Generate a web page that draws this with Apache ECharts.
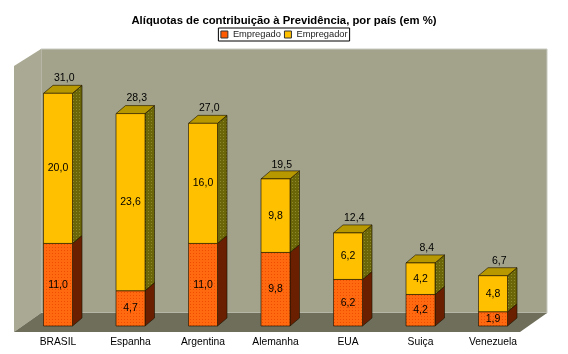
<!DOCTYPE html>
<html>
<head>
<meta charset="utf-8">
<script src="https://cdn.jsdelivr.net/npm/echarts@6/dist/echarts.min.js"></script>
<style>html,body{margin:0;padding:0;background:#fff;}#c{width:568px;height:354px;}</style>
</head>
<body>
<div id="c"></div>
<script>
const categories = ['BRASIL', 'Espanha', 'Argentina', 'Alemanha', 'EUA', 'Suiça', 'Venezuela'];
const empregado = [11.0, 4.7, 11.0, 9.8, 6.2, 4.2, 1.9];
const empregador = [20.0, 23.6, 16.0, 9.8, 6.2, 4.2, 4.8];
const totais = [31.0, 28.3, 27.0, 19.5, 12.4, 8.4, 6.7];

const FONT = '"Liberation Sans", Arial, sans-serif';
const DX = 9.5, DY = -8;
const fmt = v => v.toFixed(1).replace('.', ',');

function pattern(base, dot) {
  const c = document.createElement('canvas');
  c.width = 3; c.height = 3;
  const g = c.getContext('2d');
  g.fillStyle = base; g.fillRect(0, 0, 3, 3);
  g.fillStyle = dot; g.fillRect(1, 1, 1, 1);
  return { image: c, repeat: 'repeat' };
}

const orangeFront = pattern('#ff6a10', '#f04c00');
const oliveSide = pattern('#6b6608', '#8e8a2c');

function makeRender(front, side, top) {
  return function (params, api) {
    const i = api.value(0);
    const b = api.coord([i, api.value(1)]);
    const t = api.coord([i, api.value(2)]);
    const half = api.size([1, 0])[0] * 0.2;
    const x0 = b[0] - half, x1 = b[0] + half, yb = b[1], yt = t[1];
    const st = { stroke: 'rgba(30,20,0,0.8)', lineWidth: 0.8 };
    return {
      type: 'group',
      children: [
        { type: 'polygon', shape: { points: [[x1, yt], [x1 + DX, yt + DY], [x1 + DX, yb + DY], [x1, yb]] }, style: Object.assign({ fill: side }, st) },
        { type: 'polygon', shape: { points: [[x0, yt], [x0 + DX, yt + DY], [x1 + DX, yt + DY], [x1, yt]] }, style: Object.assign({ fill: top }, st) },
        { type: 'rect', shape: { x: x0, y: yt, width: 2 * half, height: yb - yt }, style: Object.assign({ fill: front }, st) },
        { type: 'text', style: { text: fmt(api.value(3)), x: b[0], y: (yb + yt) / 2, align: 'center', verticalAlign: 'middle', fontSize: 10.5, fontFamily: FONT, fill: '#000' } }
      ]
    };
  };
}

const dataEmpregado = categories.map((c, i) => [i, 0, empregado[i], empregado[i]]);
const dataEmpregador = categories.map((c, i) => [i, empregado[i], empregado[i] + empregador[i], empregador[i]]);
const dataTotal = categories.map((c, i) => [i, totais[i]]);

const chart = echarts.init(document.getElementById('c'), null, { renderer: 'canvas' });

const option = {
  animation: false,
  backgroundColor: '#fff',
  title: {
    text: 'Alíquotas de contribuição à Previdência, por país (em %)',
    left: 'center', top: 10,
    textStyle: { fontSize: 11.3, fontWeight: 'bold', fontFamily: FONT, color: '#000' }
  },
  legend: {
    top: 28, left: 'center',
    data: [
      { name: 'Empregado', itemStyle: { color: '#ff5a00', borderColor: '#333', borderWidth: 1 } },
      { name: 'Empregador', itemStyle: { color: '#ffc000', borderColor: '#333', borderWidth: 1 } }
    ],
    icon: 'rect',
    itemWidth: 7, itemHeight: 7, itemGap: 3,
    borderColor: '#000', borderWidth: 1,
    padding: [2, 2, 2, 2],
    textStyle: { fontSize: 9.3, fontFamily: FONT, color: '#222' }
  },
  grid: { left: 21.75, right: 38.75, top: 63.3, bottom: 28 },
  xAxis: {
    type: 'category', data: categories,
    axisLine: { show: false }, axisTick: { show: false }, splitLine: { show: false },
    axisLabel: { fontSize: 10.3, fontFamily: FONT, color: '#000', margin: 11 }
  },
  yAxis: { type: 'value', min: 0, max: 35, show: false, splitLine: { show: false } },
  graphic: [],
  series: [
    {
      name: 'Empregado', type: 'custom', itemStyle: { color: '#ff5a00' },
      renderItem: makeRender(orangeFront, '#6a1f00', '#a83a00'),
      data: dataEmpregado, z: 3
    },
    {
      name: 'Empregador', type: 'custom', itemStyle: { color: '#ffc000' },
      renderItem: makeRender('#ffc000', oliveSide, '#b89800'),
      data: dataEmpregador, z: 4
    },
    {
      name: 'Total', type: 'custom', z: 5,
      renderItem: function (params, api) {
        const p = api.coord([api.value(0), api.value(1)]);
        return { type: 'text', style: { text: fmt(api.value(1)), x: p[0] + DX / 2 + 1.5, y: p[1] + DY - 7, align: 'center', verticalAlign: 'middle', fontSize: 10.5, fontFamily: FONT, fill: '#000' } };
      },
      data: dataTotal
    }
  ]
};
chart.setOption(option);

// walls and floor (decoration), positioned from the axis scale
const y0 = chart.convertToPixel({ yAxisIndex: 0 }, 0);
const backBottom = y0 - 13, frontBottom = y0 + 6;
const wallTop = 49, wallLeft = 41, wallRight = 547, sideLeft = 14;
chart.setOption({
  graphic: [
    { type: 'group', z: -10, children: [
      { type: 'rect', shape: { x: wallLeft, y: wallTop, width: wallRight - wallLeft, height: backBottom - wallTop }, style: { fill: '#a3a38c', stroke: '#c9c9c0', lineWidth: 1 } },
      { type: 'polygon', shape: { points: [[sideLeft, wallTop + 17], [wallLeft, wallTop], [wallLeft, backBottom], [sideLeft, frontBottom]] }, style: { fill: '#a9a994' } },
      { type: 'polygon', shape: { points: [[sideLeft, frontBottom], [wallLeft, backBottom], [wallRight, backBottom], [wallRight - 27, frontBottom]] }, style: { fill: '#6e6e5a' } }
    ] }
  ]
});
</script>
</body>
</html>
